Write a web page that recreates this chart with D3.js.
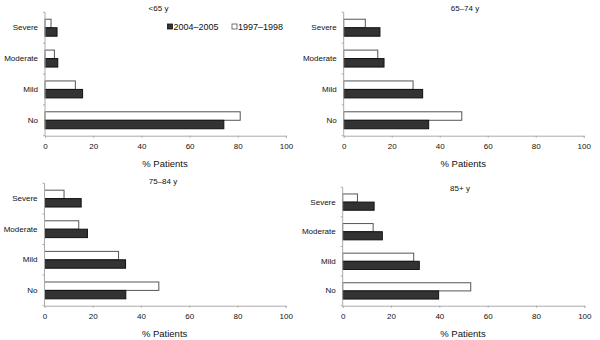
<!DOCTYPE html>
<html><head><meta charset="utf-8">
<script src="https://cdn.jsdelivr.net/npm/d3@7"></script>
<style>body{margin:0;background:#fff}svg{display:block}text{font-family:"Liberation Sans",Arial,sans-serif;fill:#111}</style>
</head><body><svg id="c" width="600" height="340"></svg>
<script>
const categories = ["Severe", "Moderate", "Mild", "No"];
const seriesNames = ["1997–1998", "2004–2005"];
const legendOrder = ["2004–2005", "1997–1998"];
const panelTitles = ["<65 y", "65–74 y", "75–84 y", "85+ y"];
const xTicks = [0, 20, 40, 60, 80, 100];
// values per panel, order follows categories
const s1997_lt65 = [2.5, 3.9, 12.6, 81.0];
const s2004_lt65 = [5.0, 5.3, 15.6, 74.2];
const s1997_65_74 = [9.0, 14.2, 28.9, 49.2];
const s2004_65_74 = [15.1, 16.8, 32.9, 35.4];
const s1997_75_84 = [8.1, 14.2, 30.7, 47.4];
const s2004_75_84 = [15.2, 17.8, 33.6, 33.7];
const s1997_85 = [6.1, 12.6, 29.4, 53.0];
const s2004_85 = [13.0, 16.4, 31.7, 39.7];

const panelData = [
  [s1997_lt65, s2004_lt65],
  [s1997_65_74, s2004_65_74],
  [s1997_75_84, s2004_75_84],
  [s1997_85, s2004_85]
];
const layouts = [
  {x0: 45, x1: 286, top: 12.3, bottom: 135.7, tx: 158.5, ty: 11, legend: true},
  {x0: 343.7, x1: 583.7, top: 12.3, bottom: 135.7, tx: 465, ty: 11},
  {x0: 44.5, x1: 285.7, top: 183.3, bottom: 305.7, tx: 163, ty: 184},
  {x0: 342.7, x1: 584.3, top: 187.3, bottom: 305.7, tx: 460, ty: 191}
];
const fills = {"1997–1998": "#ffffff", "2004–2005": "#333333"};
const strokes = {"1997–1998": "#555555", "2004–2005": "#111111"};
const svg = d3.select("#c");
const axisCol = "#aaaaaa";

layouts.forEach((L, pi) => {
  const g = svg.append("g");
  const x = d3.scaleLinear().domain([0, 100]).range([L.x0, L.x1]);
  const y = d3.scaleBand().domain(categories).range([L.top, L.bottom]).paddingInner(0.45).paddingOuter(0.225);
  const ys = d3.scaleBand().domain(seriesNames).range([0, y.bandwidth()]);
  // bars
  seriesNames.forEach((s, si) => {
    g.selectAll(null).data(categories).enter().append("rect")
      .attr("x", x(0))
      .attr("y", c => y(c) + ys(s))
      .attr("width", (c, i) => x(panelData[pi][si][i]) - x(0))
      .attr("height", ys.bandwidth())
      .attr("fill", fills[s]).attr("stroke", strokes[s]).attr("stroke-width", 1);
  });
  // x axis
  const xa = g.append("g").attr("transform", `translate(0,${L.bottom})`)
    .call(d3.axisBottom(x).tickValues(xTicks).tickSize(2).tickPadding(6));
  xa.select(".domain").attr("stroke", axisCol);
  xa.selectAll(".tick line").attr("stroke", axisCol);
  xa.selectAll("text").attr("font-size", 8).attr("fill", "#111").attr("font-family", "Liberation Sans, Arial, sans-serif");
  // y axis
  const ya = g.append("g").attr("transform", `translate(${L.x0},0)`)
    .call(d3.axisLeft(y).tickSize(0).tickPadding(7));
  ya.select(".domain").remove();
  ya.selectAll("text").attr("font-size", 8).attr("fill", "#111").attr("font-family", "Liberation Sans, Arial, sans-serif");
  g.append("line").attr("x1", L.x0).attr("x2", L.x0).attr("y1", L.top).attr("y2", L.bottom).attr("stroke", axisCol);
  const bounds = d3.range(categories.length + 1).map(i => L.top + i * y.step());
  g.selectAll(null).data(bounds).enter().append("line")
    .attr("x1", L.x0 - 2).attr("x2", L.x0).attr("y1", d => d).attr("y2", d => d).attr("stroke", axisCol);
  // title
  g.append("text").attr("x", L.tx).attr("y", L.ty).attr("text-anchor", "middle").attr("font-size", 8).text(panelTitles[pi]);
  // x title
  g.append("text").attr("x", (L.x0 + L.x1) / 2 - 0.5).attr("y", L.bottom + 31).attr("text-anchor", "middle").attr("font-size", 9.5).text("% Patients");
  if (L.legend) {
    const lx = [167.5, 232];
    legendOrder.forEach((s, i) => {
      g.append("rect").attr("x", lx[i]).attr("y", 24).attr("width", 5).attr("height", 5)
        .attr("fill", fills[s]).attr("stroke", strokes[s]).attr("stroke-width", 0.8);
      g.append("text").attr("x", lx[i] + 6).attr("y", 29.5).attr("font-size", 9).text(s);
    });
  }
});
</script></body></html>
